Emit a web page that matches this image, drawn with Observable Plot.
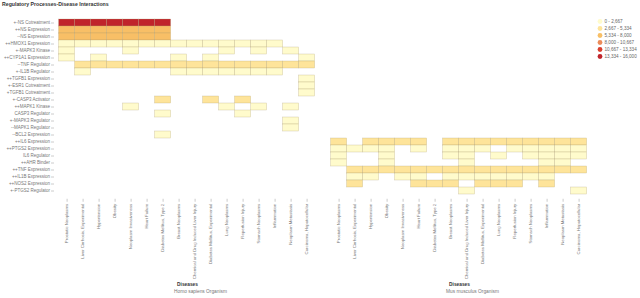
<!DOCTYPE html>
<html><head><meta charset="utf-8">
<script src="https://cdn.jsdelivr.net/npm/d3@7"></script>
<script src="https://cdn.jsdelivr.net/npm/@observablehq/plot@0.6"></script>
<style>
body{margin:0;background:#fff;font-family:"Liberation Sans",Arial,sans-serif;}
#wrap{position:relative;width:640px;height:298px;overflow:hidden}
#wrap svg, #wrap svg text{font-family:"Liberation Sans",Arial,sans-serif !important;}
#title{position:absolute;left:2px;top:1px;font-size:5.2px;line-height:6px;font-weight:bold;color:#333;z-index:2}
#main{position:absolute;left:0;top:0}
#legend{position:absolute;left:594px;top:0}
</style></head><body>
<div id="wrap"><div id="title">Regulatory Processes-Disease Interactions</div><div id="main"></div><div id="legend"></div></div>
<script>
const genes = [
  "+-NS Cotreatment","++NS Expression","--NS Expression","++HMOX1 Expression","+-MAPK3 Kinase",
  "++CYP1A1 Expression","--TNF Regulator","+-IL1B Regulator","++TGFB1 Expression","+-ESR1 Cotreatment",
  "+TGFB1 Cotreatment","+-CASP3 Activator","++MAPK1 Kinase","CASP3 Regulator","+-MAPK3 Regulator",
  "--MAPK1 Regulator","--BCL2 Expression","++IL6 Expression","++PTGS2 Expression","IL6 Regulator",
  "++AHR Binder","++TNF Expression","++IL1B Expression","++NOS2 Expression","+-PTGS2 Regulator"
];
const diseases = [
  "Prostatic Neoplasms","Liver Cirrhosis, Experimental","Hypertension","Obesity","Neoplasm Invasiveness",
  "Heart Failure","Diabetes Mellitus, Type 2","Breast Neoplasms","Chemical and Drug Induced Liver Injury",
  "Diabetes Mellitus, Experimental","Lung Neoplasms","Reperfusion Injury","Stomach Neoplasms",
  "Inflammation","Neoplasm Metastasis","Carcinoma, Hepatocellular"
];
const organisms = ["Homo sapiens","Mus musculus"];
const thresholds = [2667, 5334, 8000, 10667, 13334];
const legendLabels = ["0 - 2,667","2,667 - 5,334","5,334 - 8,000","8,000 - 10,667","10,667 - 13,334","13,334 - 16,000"];
const colors = ["#fffbcc","#fee49a","#f8bf66","#ec8c5a","#d9402f","#c0252c"];

const humanValues = [
  [15200,14800,15000,14600,15100,14900,14700,0,0,0,0,0,0,0,0,0],
  [6900,7000,6800,7100,6900,6800,7000,0,0,0,0,0,0,0,0,0],
  [6400,6300,6500,6300,6400,6200,6300,0,0,0,0,0,0,0,0,0],
  [1800,1600,1500,1500,1700,1400,1500,1300,1200,1200,1100,1200,1000,900,0,0],
  [900,0,0,0,800,0,0,0,0,0,700,0,600,0,600,0],
  [800,0,700,0,0,0,0,700,0,600,0,0,0,0,0,600],
  [0,3900,3800,3700,3800,3700,3900,3600,3500,3400,3300,3500,3400,3300,3200,3100],
  [0,1200,0,0,0,0,0,1100,1000,1000,900,900,800,800,0,0],
  [0,0,0,0,0,0,0,0,0,0,0,0,0,0,0,700],
  [0,0,0,0,0,0,0,0,0,0,0,0,0,0,0,650],
  [0,0,0,0,0,0,0,0,0,0,0,0,0,0,0,600],
  [0,0,0,0,0,0,3300,0,0,3100,0,3000,0,0,0,0],
  [0,0,0,0,900,0,0,0,0,0,800,0,700,0,700,0],
  [0,0,0,0,0,0,800,0,0,0,0,700,0,0,0,0],
  [0,0,0,0,0,0,0,0,0,0,0,0,0,0,600,0],
  [0,0,0,0,0,0,0,0,0,0,0,0,0,0,600,0],
  [0,0,0,0,0,0,700,0,0,0,0,0,0,0,0,0],
  [0,0,0,0,0,0,0,0,0,0,0,0,0,0,0,0],
  [0,0,0,0,0,0,0,0,0,0,0,0,0,0,0,0],
  [0,0,0,0,0,0,0,0,0,0,0,0,0,0,0,0],
  [0,0,0,0,0,0,0,0,0,0,0,0,0,0,0,0],
  [0,0,0,0,0,0,0,0,0,0,0,0,0,0,0,0],
  [0,0,0,0,0,0,0,0,0,0,0,0,0,0,0,0],
  [0,0,0,0,0,0,0,0,0,0,0,0,0,0,0,0],
  [0,0,0,0,0,0,0,0,0,0,0,0,0,0,0,0]
];
const mouseValues = [
  [0,0,0,0,0,0,0,0,0,0,0,0,0,0,0,0],
  [0,0,0,0,0,0,0,0,0,0,0,0,0,0,0,0],
  [0,0,0,0,0,0,0,0,0,0,0,0,0,0,0,0],
  [0,0,0,0,0,0,0,0,0,0,0,0,0,0,0,0],
  [0,0,0,0,0,0,0,0,0,0,0,0,0,0,0,0],
  [0,0,0,0,0,0,0,0,0,0,0,0,0,0,0,0],
  [0,0,0,0,0,0,0,0,0,0,0,0,0,0,0,0],
  [0,0,0,0,0,0,0,0,0,0,0,0,0,0,0,0],
  [0,0,0,0,0,0,0,0,0,0,0,0,0,0,0,0],
  [0,0,0,0,0,0,0,0,0,0,0,0,0,0,0,0],
  [0,0,0,0,0,0,0,0,0,0,0,0,0,0,0,0],
  [0,0,0,0,0,0,0,0,0,0,0,0,0,0,0,0],
  [0,0,0,0,0,0,0,0,0,0,0,0,0,0,0,0],
  [0,0,0,0,0,0,0,0,0,0,0,0,0,0,0,0],
  [0,0,0,0,0,0,0,0,0,0,0,0,0,0,0,0],
  [0,0,0,0,0,0,0,0,0,0,0,0,0,0,0,0],
  [0,0,0,0,0,0,0,0,0,0,0,0,0,0,0,0],
  [3600,0,3500,3400,3500,3300,0,3400,3300,3500,3200,3400,3300,3100,3400,3300],
  [1800,1700,1600,1700,0,1500,0,1700,1600,1500,0,1600,1500,1400,1500,1400],
  [1400,0,0,1300,0,0,0,1300,1200,0,1200,0,1100,1200,1100,1000],
  [1000,0,0,900,0,0,0,0,900,0,0,0,0,800,800,0],
  [0,4300,4200,4100,4200,4000,4100,4000,4200,4100,3900,4000,4100,3900,4200,4000],
  [0,1600,1500,0,1500,1400,0,1500,1400,1400,1300,1300,1200,1200,0,0],
  [0,3400,0,0,0,3300,3200,3100,0,3300,3200,3100,0,3000,0,0],
  [0,0,0,0,0,0,0,0,900,0,0,0,0,0,0,800]
];

const data = [];
[humanValues, mouseValues].forEach((m, k) => {
  m.forEach((row, i) => row.forEach((v, j) => {
    if (v > 0) data.push({organism: organisms[k], gene: genes[i], disease: diseases[j], value: v});
  }));
});

const chart = Plot.plot({
  width: 640, height: 298,
  marginLeft: 53.4, marginRight: 47.3, marginTop: 15, marginBottom: 99.25,
  style: {fontSize: "4.5px", background: "transparent", overflow: "visible"},
  fx: {domain: organisms, axis: null, paddingInner: 0.022, paddingOuter: 0},
  x: {domain: diseases, padding: 0},
  y: {domain: genes, padding: 0},
  color: {type: "threshold", domain: thresholds, range: colors},
  marks: [
    Plot.cell(data, {fx: "organism", x: "disease", y: "gene", fill: "value",
      stroke: "#a8976a", strokeOpacity: 0.5, strokeWidth: 0.5, inset: 0}),
    Plot.axisY({anchor: "left", tickSize: 3, tickPadding: 1.5, stroke: "#ccc", fill: "#777",
      fontSize: 4.5, label: null, line: true}),
    Plot.axisX({anchor: "bottom", tickSize: 3, tickPadding: 1.5, tickRotate: -90, stroke: "#ccc",
      fill: "#777", fontSize: 4.3, label: null, line: true}),
    Plot.text(organisms, {fx: d => d, text: () => "Diseases", frameAnchor: "bottom", dy: 87,
      fontWeight: "bold", fill: "#333", fontSize: 4.8}),
    Plot.text(organisms, {fx: d => d, text: d => d + " Organism", frameAnchor: "bottom", dy: 94,
      dx: 13, fill: "#777", fontSize: 4.8})
  ]
});
document.getElementById("main").appendChild(chart);

const legend = Plot.plot({
  width: 46, height: 75, margin: 0,
  style: {background: "transparent", overflow: "visible"},
  x: {domain: [0, 1], axis: null},
  y: {type: "point", domain: legendLabels, range: [15, 62.7], axis: null},
  color: {domain: legendLabels, range: colors},
  marks: [
    Plot.dot(legendLabels, {x: 0, y: d => d, fill: d => d, r: 2.4, dx: 5.5}),
    Plot.text(legendLabels, {x: 0, y: d => d, text: d => d, dx: 10, textAnchor: "start",
      fill: "#666", fontSize: 4.6})
  ]
});
document.getElementById("legend").appendChild(legend);
</script>
</body></html>
